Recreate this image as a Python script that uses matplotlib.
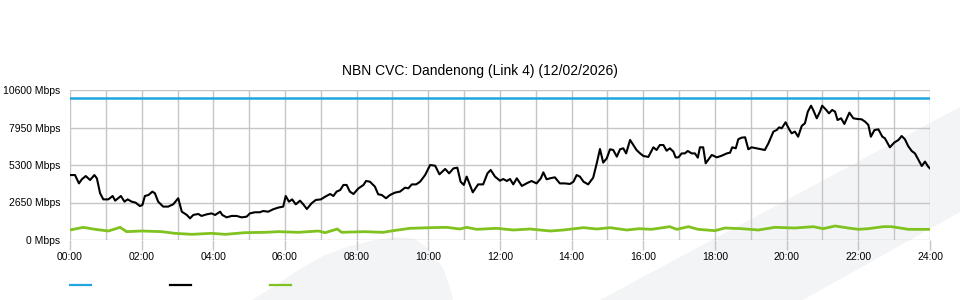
import numpy as np
import matplotlib
matplotlib.use("Agg")
import matplotlib.pyplot as plt
from matplotlib.patches import Polygon
from matplotlib.lines import Line2D

plt.rcParams['font.family'] = ['Liberation Sans', 'DejaVu Sans']

title = "NBN CVC: Dandenong (Link 4) (12/02/2026)"

# capacity (blue), flat
cap_hours = [0, 24]
cap_mbps = [10000, 10000]

# traffic (black)
traffic_hours = [0.00, 0.14, 0.25, 0.33, 0.44, 0.56, 0.68, 0.75, 0.84, 0.93,
                 1.07, 1.19, 1.26, 1.42, 1.52, 1.61, 1.72, 1.83, 1.95, 2.02,
                 2.09, 2.19, 2.30, 2.37, 2.46, 2.60, 2.74, 2.88, 3.02, 3.12,
                 3.26, 3.35, 3.44, 3.58, 3.67, 3.81, 3.95, 4.05, 4.19, 4.25,
                 4.37, 4.51, 4.65, 4.79, 4.93, 5.02, 5.16, 5.30, 5.39, 5.53,
                 5.67, 5.81, 5.95, 6.02, 6.11, 6.20, 6.30, 6.42, 6.51, 6.61,
                 6.74, 6.86, 7.00, 7.12, 7.26, 7.35, 7.44, 7.54, 7.63, 7.72,
                 7.81, 7.91, 8.05, 8.19, 8.26, 8.37, 8.51, 8.60, 8.70, 8.82,
                 8.93, 9.07, 9.21, 9.35, 9.44, 9.54, 9.66, 9.77, 9.91, 10.05,
                 10.19, 10.31, 10.47, 10.58, 10.70, 10.81, 10.90, 10.99, 11.07, 11.16,
                 11.24, 11.39, 11.53, 11.65, 11.74, 11.86, 12.00, 12.09, 12.19, 12.28,
                 12.37, 12.47, 12.61, 12.74, 12.88, 13.02, 13.14, 13.21, 13.30, 13.40,
                 13.53, 13.67, 13.81, 13.95, 14.05, 14.14, 14.23, 14.33, 14.46, 14.60,
                 14.70, 14.79, 14.88, 14.98, 15.07, 15.16, 15.26, 15.35, 15.44, 15.52,
                 15.63, 15.72, 15.81, 15.91, 16.00, 16.14, 16.28, 16.37, 16.46, 16.56,
                 16.65, 16.74, 16.84, 16.90, 16.98, 17.07, 17.16, 17.24, 17.35, 17.44,
                 17.52, 17.58, 17.67, 17.74, 17.91, 18.05, 18.19, 18.33, 18.42, 18.48,
                 18.58, 18.65, 18.74, 18.84, 18.93, 19.02, 19.16, 19.30, 19.39, 19.49,
                 19.63, 19.72, 19.79, 19.86, 19.97, 20.07, 20.14, 20.23, 20.32, 20.42,
                 20.51, 20.59, 20.68, 20.74, 20.84, 20.93, 20.99, 21.09, 21.18, 21.27,
                 21.35, 21.42, 21.52, 21.61, 21.75, 21.86, 21.98, 22.09, 22.19, 22.28,
                 22.35, 22.45, 22.56, 22.67, 22.74, 22.88, 23.00, 23.12, 23.21, 23.30,
                 23.39, 23.49, 23.58, 23.68, 23.77, 23.86, 23.95, 24.00]
traffic_mbps = [4590, 4590, 4000, 4290, 4520, 4240, 4590, 4360, 3300, 2870,
                2870, 3110, 2780, 3110, 2710, 2870, 2710, 2640, 2400, 2470,
                3110, 3180, 3420, 3300, 2710, 2360, 2360, 2520, 2950, 2000,
                1770, 1530, 1770, 1840, 1700, 1810, 1880, 1770, 2000, 1770,
                1600, 1700, 1700, 1600, 1650, 1880, 1960, 1960, 2050, 2000,
                2170, 2290, 2360, 3110, 2710, 2870, 2520, 2780, 2520, 2190,
                2590, 2830, 2870, 3060, 3250, 3110, 3420, 3530, 3890, 3890,
                3420, 3250, 3650, 3890, 4170, 4120, 3770, 3230, 3180, 2950,
                3180, 3350, 3420, 3700, 3650, 3930, 3930, 4120, 4590, 5300,
                5250, 4640, 5020, 4710, 5060, 5110, 4120, 3890, 4480, 3890,
                3370, 3930, 3930, 4710, 4950, 4480, 4190, 4310, 4170, 4310,
                3930, 4360, 3820, 4000, 4170, 4000, 4360, 4780, 4290, 4360,
                4430, 4000, 4000, 3960, 4120, 4590, 4480, 4120, 3930, 4400,
                5420, 6430, 5470, 5770, 6410, 6360, 5890, 6410, 6480, 6120,
                7070, 6710, 6360, 6120, 5940, 5870, 6550, 6360, 6710, 6710,
                6310, 6480, 6240, 5840, 5840, 6120, 6120, 6290, 6120, 6120,
                5820, 6550, 6550, 5420, 6010, 5840, 5960, 6120, 6170, 6550,
                6480, 7120, 7230, 7260, 6410, 6550, 6480, 6410, 6360, 6830,
                7660, 7770, 7960, 7890, 8320, 7820, 7540, 7660, 7300, 8060,
                8250, 9070, 9490, 9190, 8600, 9070, 9490, 9230, 8950, 9190,
                9070, 8480, 8600, 8200, 9000, 8600, 8550, 8530, 8360, 8130,
                7300, 7770, 7820, 7300, 7190, 6550, 6880, 7070, 7350, 7120,
                6640, 6290, 6120, 5650, 5230, 5540, 5180, 5060]

# second traffic series (green)
green_hours = [0.00, 0.37, 0.70, 1.07, 1.40, 1.58, 2.00, 2.56, 2.93, 3.40,
               3.95, 4.33, 4.88, 5.44, 5.81, 6.37, 6.93, 7.12, 7.46, 7.58,
               8.19, 8.74, 9.02, 9.49, 10.05, 10.51, 10.88, 11.07, 11.35, 11.91,
               12.37, 12.84, 13.40, 13.77, 14.33, 14.70, 15.07, 15.54, 15.89, 16.23,
               16.74, 16.93, 17.26, 17.53, 18.00, 18.28, 18.74, 19.21, 19.67, 20.23,
               20.74, 21.02, 21.35, 21.72, 22.00, 22.28, 22.70, 22.93, 23.40, 24.00]
green_mbps = [707, 895, 754, 636, 895, 589, 636, 589, 471, 400,
              471, 400, 518, 542, 589, 542, 636, 518, 777, 542,
              589, 542, 660, 825, 872, 895, 777, 895, 754, 825,
              707, 777, 636, 707, 872, 777, 872, 707, 800, 754,
              942, 754, 942, 754, 660, 848, 801, 707, 895, 848,
              942, 801, 989, 848, 754, 801, 942, 942, 754, 754]

y_ticks = [0, 2650, 5300, 7950, 10600]
x_ticks = list(range(0, 25, 2))

blue = '#1fa6e0'
green = '#80c21f'
grid_c = '#c6c6c6'

fig = plt.figure(figsize=(9.6, 3.0), dpi=100)

# light watermark shapes behind everything (pixel coords -> figure coords)
def px(pts):
    return [(x / 960, 1 - y / 300) for x, y in pts]

band = [(600, 300), (803, 300), (960, 212), (960, 107)]
swoosh = [(252, 300), (276, 285), (300, 269), (325, 255), (350, 246), (375, 240),
          (398, 237), (415, 239), (430, 250), (443, 268), (450, 288), (453, 300)]
for pts in (band, swoosh):
    fig.add_artist(Polygon(px(pts), closed=True, facecolor='#f3f4f6',
                           edgecolor='none', zorder=0))

ax = fig.add_axes([70 / 960, 60 / 300, 860 / 960, 150 / 300])
ax.set_facecolor('none')
ax.set_zorder(1)

ax.plot(cap_hours, cap_mbps, color=blue, lw=1.8, zorder=3)
ax.plot(traffic_hours, traffic_mbps, color='black', lw=1.5, zorder=4)
ax.plot(green_hours, green_mbps, color=green, lw=2.0, zorder=3)

ax.set_xlim(0, 24)
ax.set_ylim(0, 10600)
ax.set_yticks(y_ticks)
ax.set_yticklabels([f"{v} Mbps" for v in y_ticks])
ax.set_xticks(x_ticks)
ax.set_xticklabels([f"{h:02d}:00" for h in x_ticks])
ax.set_xticks(range(0, 25), minor=True)

ax.grid(True, which='both', axis='x', color=grid_c, lw=1)
ax.grid(True, which='major', axis='y', color=grid_c, lw=1)
for s in ax.spines.values():
    s.set_visible(False)

ax.tick_params(axis='y', length=0, pad=7, labelsize=7.5, colors='black')
ax.tick_params(axis='x', which='major', length=7, width=1, color=grid_c,
               pad=2, labelsize=7.5, labelcolor='black')
ax.tick_params(axis='x', which='minor', length=0)

fig.text(0.5, 1 - 71 / 300, title, fontsize=10, ha='center', va='center')

# legend swatches without text
for x0, c in [(70, blue), (170, 'black'), (270, green)]:
    fig.add_artist(Line2D([x0 / 960, (x0 + 21) / 960], [1 - 285 / 300] * 2,
                          color=c, lw=1.6))

fig.savefig("out.png", dpi=100)
